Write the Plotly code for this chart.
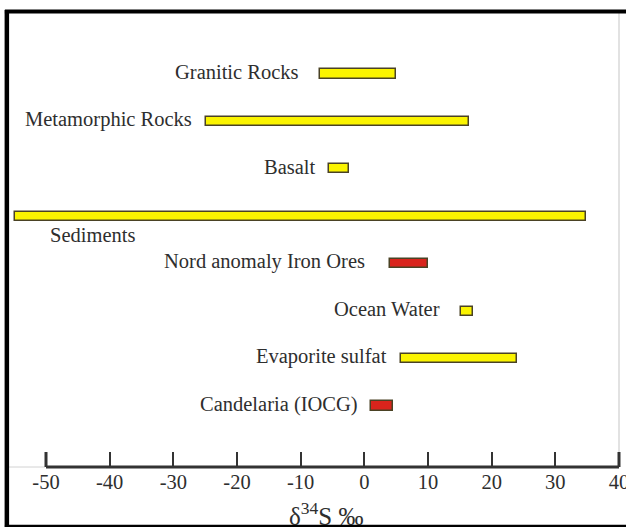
import plotly.graph_objects as go

# ---- data ----
categories = ["Granitic Rocks", "Metamorphic Rocks", "Basalt", "Sediments",
              "Nord anomaly Iron Ores", "Ocean Water", "Evaporite sulfat",
              "Candelaria (IOCG)"]
range_min = [-7, -24.8, -5.6, -54.8, 4, 15.2, 5.8, 1]
range_max = [5, 16.5, -2.4, 34.8, 10, 17, 24, 4.5]
groups = ["source", "source", "source", "source", "ore", "source", "source", "ore"]
tick_vals = [-50, -40, -30, -20, -10, 0, 10, 20, 30, 40]
tick_text = ["-50", "-40", "-30", "-20", "-10", "0", "10", "20", "30", "40"]
axis_title = "δ<sup>34</sup>S ‰"

# ---- styles ----
W, H = 626, 527          # visible window
FW = 640                 # figure width (overflow beyond window is clipped)
FONT = "Liberation Serif"
TXT = "#2e2e2e"
fill = {"source": "#fbf400", "ore": "#d9241c"}
label_gap = [21, 14, 13, 0, 25, 21, 14, 13]

# pixel mapping helpers (layout only)
px_per_unit = (619 - 46) / 90.0
x_lo = -50 - 46 / px_per_unit
x_hi = -50 + (W - 46) / px_per_unit
axis_px = 467
top_c, step = 74, (406 - 74) / 7.0
y_top = -top_c / step
y_bot = (axis_px - top_c) / step

fig = go.Figure()
fig.add_trace(go.Bar(
    y=categories,
    x=[b - a for a, b in zip(range_min, range_max)],
    base=range_min,
    orientation="h",
    width=0.19,
    marker=dict(color=[fill[g] for g in groups],
                line=dict(color="#4a4224", width=1.5)),
    hoverinfo="skip",
    showlegend=False,
))


def px(x):
    return x / FW


def py(y):
    return 1 - y / H


annotations = []
for i, (c, a) in enumerate(zip(categories, range_min)):
    if c == "Sediments":
        annotations.append(dict(x=tick_vals[0], y=c, xref="x", yref="y",
                                text=c, showarrow=False, xanchor="left",
                                yanchor="middle", xshift=2, yshift=-19,
                                font=dict(family=FONT, size=20.5, color=TXT)))
    else:
        annotations.append(dict(x=a, y=c, xref="x", yref="y", text=c,
                                showarrow=False, xanchor="right",
                                yanchor="middle", xshift=-label_gap[i] + 2,
                                yshift=2,
                                font=dict(family=FONT, size=20.5, color=TXT)))
annotations.append(dict(x=px(327), y=py(514), xref="paper", yref="paper",
                        text=axis_title, showarrow=False, xanchor="center",
                        yanchor="middle", xshift=6,
                        font=dict(family=FONT, size=25, color=TXT)))

shapes = [
    # light grey extension of axis to the left
    dict(type="line", xref="paper", yref="paper", x0=px(8), x1=px(46),
         y0=py(axis_px), y1=py(axis_px), line=dict(color="#d2d2d2", width=1)),
    # light grey right vertical line
    dict(type="line", xref="x", yref="paper", x0=tick_vals[-1], x1=tick_vals[-1],
         y0=py(axis_px), y1=py(12), line=dict(color="#e2e2e2", width=2)),
    # main axis line
    dict(type="line", xref="x", yref="paper", x0=tick_vals[0], x1=tick_vals[-1],
         y0=py(axis_px), y1=py(axis_px), line=dict(color="#333333", width=3)),
    # thick end ticks
    dict(type="line", xref="x", yref="paper", x0=tick_vals[0], x1=tick_vals[0],
         y0=py(axis_px), y1=py(452), line=dict(color="#333333", width=3)),
    dict(type="line", xref="x", yref="paper", x0=tick_vals[-1], x1=tick_vals[-1],
         y0=py(axis_px), y1=py(452), line=dict(color="#333333", width=3)),
    # black frame
    dict(type="line", xref="paper", yref="paper", x0=px(5), x1=1,
         y0=py(11.5), y1=py(11.5), line=dict(color="black", width=4)),
    dict(type="line", xref="paper", yref="paper", x0=px(7), x1=px(7),
         y0=py(10), y1=py(H + 2), line=dict(color="black", width=4.5)),
    dict(type="line", xref="paper", yref="paper", x0=px(5), x1=1,
         y0=py(526), y1=py(526), line=dict(color="black", width=2.5)),
]

fig.update_layout(
    width=FW, height=H,
    margin=dict(l=0, r=FW - W, t=0, b=0),
    paper_bgcolor="white", plot_bgcolor="white",
    xaxis=dict(range=[x_lo, x_hi], tickvals=tick_vals, ticktext=tick_text,
               ticks="inside", ticklen=15, tickwidth=1.5, tickcolor="#333333",
               showline=False, showgrid=False, zeroline=False,
               tickfont=dict(family=FONT, size=20.5, color=TXT),
               ticklabelstandoff=0, ticklabeloverflow="allow", domain=[0, 1]),
    yaxis=dict(range=[y_bot, y_top], showticklabels=False, showgrid=False,
               zeroline=False, showline=False, ticks="",
               domain=[1 - axis_px / H, 1]),
    annotations=annotations,
    shapes=shapes,
    bargap=0,
)

fig.write_html(
    "out.html",
    config={"displayModeBar": False},
    post_script="document.body.style.margin='0';document.body.style.overflow='hidden';",
)
